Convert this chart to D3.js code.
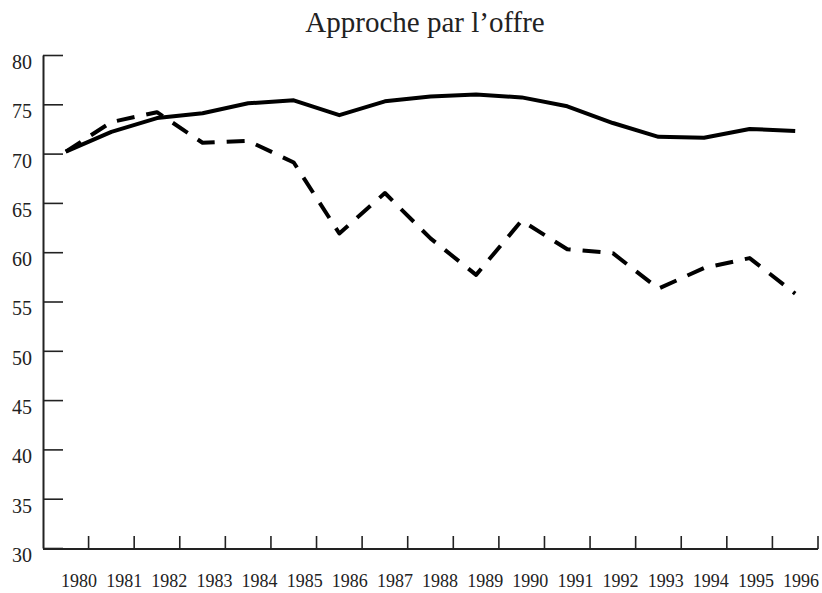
<!DOCTYPE html>
<html>
<head>
<meta charset="utf-8">
<script src="https://cdn.jsdelivr.net/npm/d3@7"></script>
<style>
  body { margin: 0; background: #fff; }
  svg text { font-family: "Liberation Serif", "DejaVu Serif", serif; fill: #222; }
</style>
</head>
<body>
<svg id="chart" width="822" height="593"></svg>
<script>
// data
var years = ["1980","1981","1982","1983","1984","1985","1986","1987","1988",
             "1989","1990","1991","1992","1993","1994","1995","1996"];
var solid = [70.2, 72.2, 73.6, 74.1, 75.1, 75.4, 73.9, 75.3, 75.8,
             76.0, 75.7, 74.8, 73.1, 71.7, 71.6, 72.5, 72.3];
var dashed = [70.2, 73.2, 74.2, 71.1, 71.3, 69.1, 61.9, 66.0, 61.4,
              57.7, 63.2, 60.3, 59.9, 56.3, 58.4, 59.4, 55.8];
var yTicks = [30, 35, 40, 45, 50, 55, 60, 65, 70, 75, 80];
var title = "Approche par l\u2019offre";

var svg = d3.select("#chart");

var x = d3.scaleBand().domain(years).range([43, 818]).padding(0);
var xLab = d3.scalePoint().domain(years).range([79, 801]);
var y = d3.scaleLinear().domain([30, 80]).range([548, 55]);

// title
svg.append("text")
    .attr("x", 425)
    .attr("y", 32)
    .attr("text-anchor", "middle")
    .style("font-size", "29px")
    .text(title);

// y axis, ticks pointing inward
var yAxis = d3.axisLeft(y).tickValues(yTicks).tickSizeInner(-20).tickSizeOuter(0).tickPadding(11);
var gy = svg.append("g").attr("transform", "translate(43,0)").call(yAxis);
gy.select(".domain").attr("stroke", "#222").attr("stroke-width", 2);
gy.selectAll(".tick line").attr("stroke", "#222").attr("stroke-width", 1.6);
gy.selectAll(".tick text")
    .attr("dy", "0.67em")
    .style("font-size", "20px")
    .style("font-family", "Liberation Serif, serif")
    .attr("fill", "#222");

// x axis: base line, ticks on band edges
svg.append("line")
    .attr("x1", x.range()[0]).attr("x2", x.range()[1])
    .attr("y1", 549).attr("y2", 549)
    .attr("stroke", "#222").attr("stroke-width", 2);

svg.append("g").selectAll("line")
    .data(years)
    .join("line")
    .attr("x1", function (d) { return x(d) + x.bandwidth(); })
    .attr("x2", function (d) { return x(d) + x.bandwidth(); })
    .attr("y1", 549)
    .attr("y2", 536)
    .attr("stroke", "#222")
    .attr("stroke-width", 1.6);

svg.append("g").selectAll("text")
    .data(years)
    .join("text")
    .attr("x", function (d) { return xLab(d); })
    .attr("y", 587)
    .attr("text-anchor", "middle")
    .style("font-size", "18px")
    .text(function (d) { return d; });

// lines
var line = d3.line()
    .x(function (d, i) { return x(years[i]) + x.bandwidth() / 2; })
    .y(function (d) { return y(d); });

svg.append("path")
    .datum(solid)
    .attr("d", line)
    .attr("fill", "none")
    .attr("stroke", "#000")
    .attr("stroke-width", 4)
    .attr("stroke-linejoin", "round");

svg.append("path")
    .datum(dashed)
    .attr("d", line)
    .attr("fill", "none")
    .attr("stroke", "#000")
    .attr("stroke-width", 4)
    .attr("stroke-dasharray", "18,12")
    .attr("stroke-linejoin", "round");
</script>
</body>
</html>
